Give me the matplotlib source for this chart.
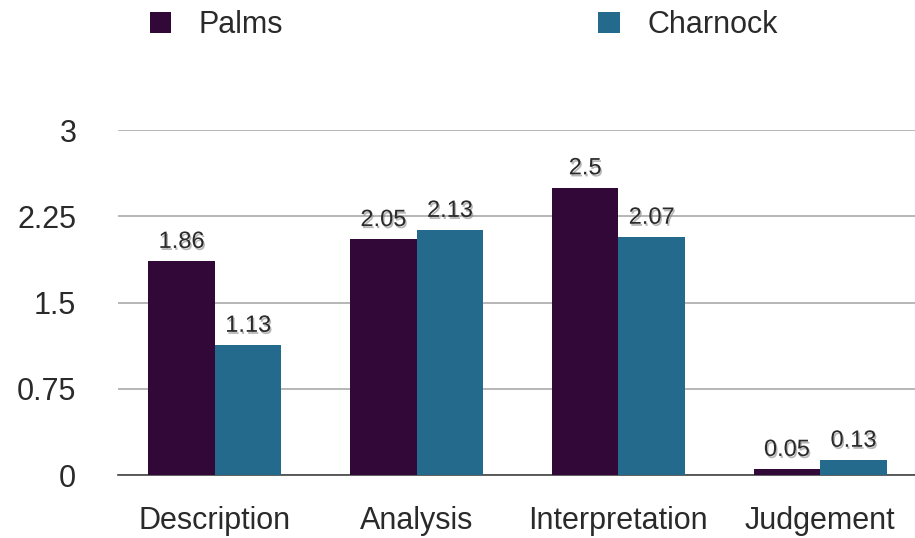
import numpy as np
import matplotlib.pyplot as plt
import matplotlib.patheffects as pe

plt.rcParams['font.family'] = ['Liberation Sans', 'DejaVu Sans']

# data
categories = ["Description", "Analysis", "Interpretation", "Judgement"]
palms = [1.86, 2.05, 2.5, 0.05]
charnock = [1.13, 2.13, 2.07, 0.13]
yticks = [0, 0.75, 1.5, 2.25, 3]
ytick_labels = ["0", "0.75", "1.5", "2.25", "3"]

c_palms = "#320838"
c_charnock = "#246a8c"

fig = plt.figure(figsize=(9.15, 5.38), dpi=100)
ax = fig.add_axes([0.129, 0.117, 0.871, 0.641])

x = np.arange(len(categories))
w = 0.33
b1 = ax.bar(x - w / 2, palms, w, color=c_palms, label="Palms", zorder=3)
b2 = ax.bar(x + w / 2, charnock, w, color=c_charnock, label="Charnock", zorder=3)

# value labels with a soft shadow
shadow = [pe.withSimplePatchShadow(offset=(1, -1.5), shadow_rgbFace="#888888", alpha=0.6)]
for bars, vals in [(b1, palms), (b2, charnock)]:
    for bar, v in zip(bars, vals):
        ax.annotate(f"{v:g}", (bar.get_x() + bar.get_width() / 2, v),
                    xytext=(0, 6), textcoords="offset points",
                    ha="center", va="bottom", fontsize=17, color="#2a2a2a",
                    path_effects=shadow, zorder=4)

ax.set_xlim(-0.48, 3.47)
ax.set_ylim(0, 3)
ax.set_yticks(yticks)
ax.set_yticklabels(ytick_labels)
ax.set_xticks(x)
ax.set_xticklabels(categories)
ax.tick_params(axis="y", length=0, pad=30, labelsize=22, labelcolor="#2a2a2a")
ax.tick_params(axis="x", length=0, pad=22, labelsize=22, labelcolor="#2a2a2a")
ax.yaxis.grid(True, color="#aaaaaa", linewidth=1.2, zorder=0)
for s in ["top", "right", "left"]:
    ax.spines[s].set_visible(False)
ax.spines["bottom"].set_color("#444444")
ax.spines["bottom"].set_linewidth(1.2)

fig.legend(loc="center left", bbox_to_anchor=(0.134, 0.953), ncol=2, frameon=False,
           fontsize=22, handlelength=0.7, handleheight=0.7, handletextpad=0.9,
           columnspacing=10.3, labelcolor="#2a2a2a")

fig.savefig("out.png", dpi=100)
